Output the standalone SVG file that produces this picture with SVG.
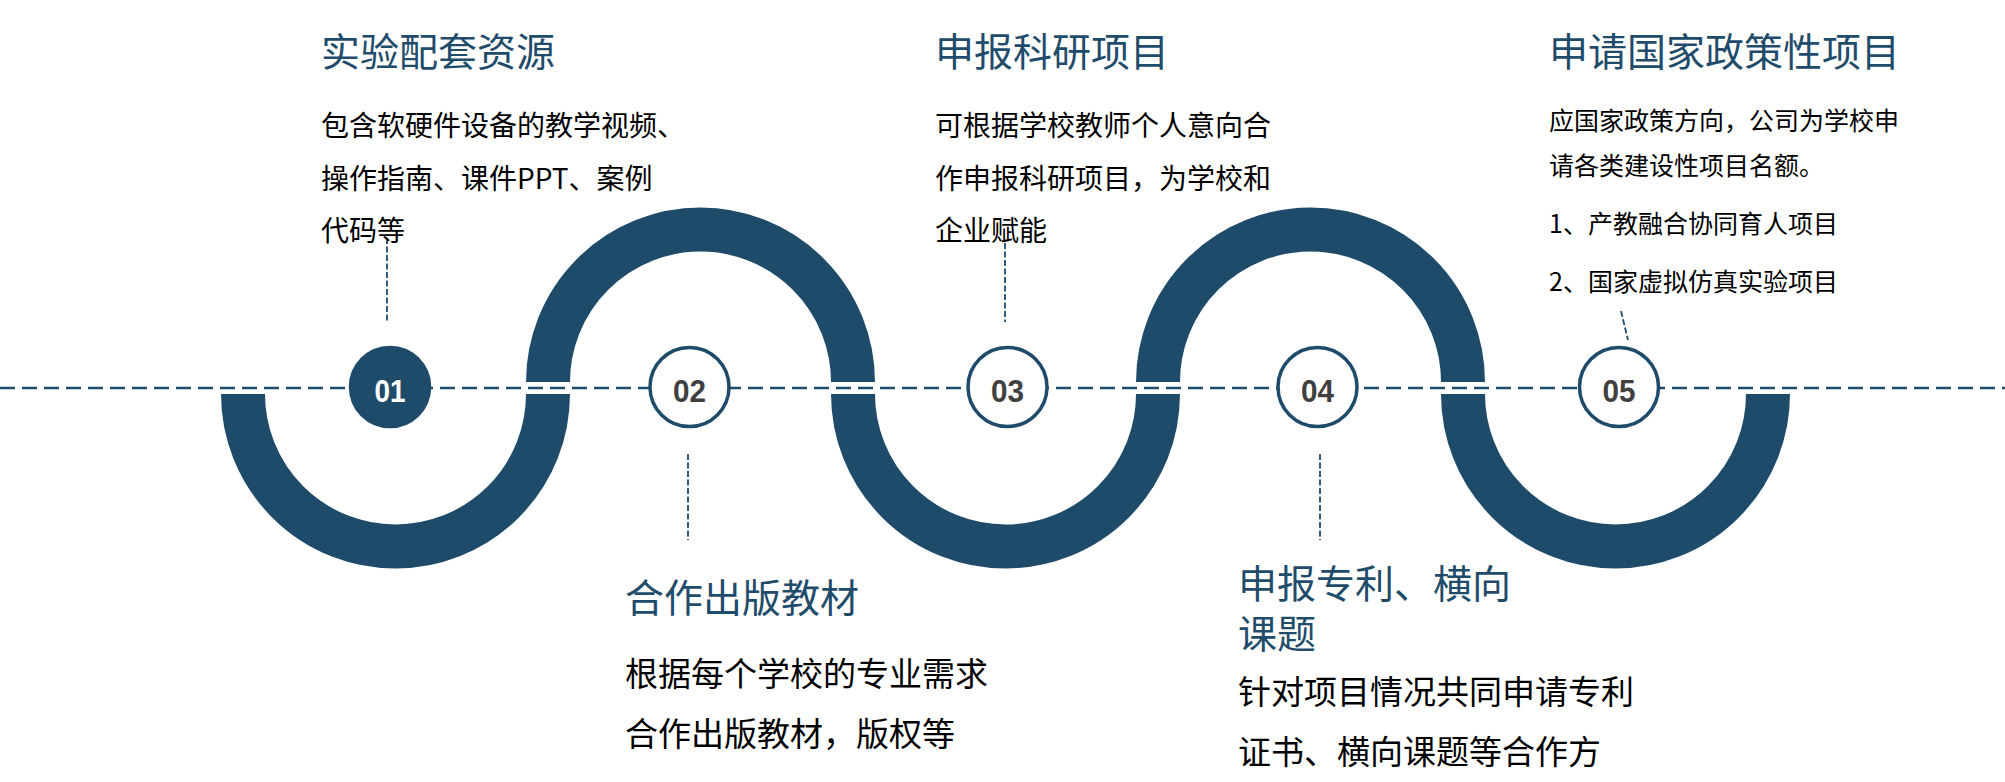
<svg xmlns="http://www.w3.org/2000/svg" width="2005" height="782" viewBox="0 0 2005 782">
  <style>
    .arc{fill:none;stroke:#1f4b6a;stroke-width:44;stroke-linecap:butt}
    .axis{fill:none;stroke:#1f4b6a;stroke-width:2.5;stroke-dasharray:15 7}
    .lead{fill:none;stroke:#1f4b6a;stroke-width:1.8;stroke-dasharray:6 2.5}
    .ring{fill:#ffffff;stroke:#1f4b6a;stroke-width:3.5}
    .ringf{fill:#1f4b6a;stroke:#1f4b6a;stroke-width:3.5}
    .num{font-family:"Liberation Sans",Arial,sans-serif;font-weight:bold;font-size:31px;fill:#404040;text-anchor:middle}
    .numw{fill:#ffffff}
    .title{font-family:"Noto Sans CJK SC","Noto Sans",sans-serif;font-size:39px;fill:#1f4c6b}
    .b28{font-family:"Noto Sans CJK SC","Noto Sans",sans-serif;font-size:28px;fill:#000000}
    .b25{font-family:"Noto Sans CJK SC","Noto Sans",sans-serif;font-size:25px;fill:#000000}
    .b33{font-family:"Noto Sans CJK SC","Noto Sans",sans-serif;font-size:33px;fill:#000000}
  </style>
  <rect width="2005" height="782" fill="#ffffff"/>
  <g id="wave">
    <path class="arc" d="M243 394 A152.5 152.5 0 0 0 548 394"/>
    <path class="arc" d="M548 382 A152.5 152.5 0 0 1 853 382"/>
    <path class="arc" d="M853 394 A152.5 152.5 0 0 0 1158 394"/>
    <path class="arc" d="M1158 382 A152.5 152.5 0 0 1 1463 382"/>
    <path class="arc" d="M1463 394 A152.5 152.5 0 0 0 1768 394"/>
  </g>
  <g id="connectors">
    <line class="axis" x1="0" y1="388" x2="2005" y2="388"/>
    <line class="lead" x1="387" y1="238" x2="387" y2="322"/>
    <line class="lead" x1="688" y1="454" x2="688" y2="540"/>
    <line class="lead" x1="1005" y1="243" x2="1005" y2="322"/>
    <line class="lead" x1="1320" y1="454" x2="1320" y2="540"/>
    <line class="lead" x1="1621" y1="311" x2="1628" y2="340"/>
  </g>
  <g id="node-01">
    <circle class="ringf" cx="390" cy="387" r="39.5"/>
    <text class="num numw" x="390" y="402" textLength="31" lengthAdjust="spacingAndGlyphs">01</text>
    <text class="title" x="321" y="66">实验配套资源</text>
    <text class="b28" x="321" y="136">包含软硬件设备的教学视频、</text>
    <text class="b28" x="321" y="189">操作指南、课件PPT、案例</text>
    <text class="b28" x="321" y="241">代码等</text>
  </g>
  <g id="node-02">
    <circle class="ring" cx="689.5" cy="387" r="39.5"/>
    <text class="num" x="689.5" y="402" textLength="33" lengthAdjust="spacingAndGlyphs">02</text>
    <text class="title" x="625" y="612">合作出版教材</text>
    <text class="b33" x="625" y="686">根据每个学校的专业需求</text>
    <text class="b33" x="625" y="746">合作出版教材，版权等</text>
  </g>
  <g id="node-03">
    <circle class="ring" cx="1007.5" cy="387" r="39.5"/>
    <text class="num" x="1007.5" y="402" textLength="33" lengthAdjust="spacingAndGlyphs">03</text>
    <text class="title" x="935" y="66">申报科研项目</text>
    <text class="b28" x="935" y="136">可根据学校教师个人意向合</text>
    <text class="b28" x="935" y="189">作申报科研项目，为学校和</text>
    <text class="b28" x="935" y="241">企业赋能</text>
  </g>
  <g id="node-04">
    <circle class="ring" cx="1317.5" cy="387" r="39.5"/>
    <text class="num" x="1317.5" y="402" textLength="33" lengthAdjust="spacingAndGlyphs">04</text>
    <text class="title" x="1238" y="598">申报专利、横向<tspan x="1238" dy="50">课题</tspan></text>
    <text class="b33" x="1238" y="704">针对项目情况共同申请专利</text>
    <text class="b33" x="1238" y="764">证书、横向课题等合作方</text>
  </g>
  <g id="node-05">
    <circle class="ring" cx="1619" cy="387" r="39.5"/>
    <text class="num" x="1619" y="402" textLength="33" lengthAdjust="spacingAndGlyphs">05</text>
    <text class="title" x="1549" y="66">申请国家政策性项目</text>
    <text class="b25" x="1549" y="130">应国家政策方向，公司为学校申</text>
    <text class="b25" x="1549" y="175">请各类建设性项目名额。</text>
    <text class="b25" x="1549" y="233">1、产教融合协同育人项目</text>
    <text class="b25" x="1549" y="291">2、国家虚拟仿真实验项目</text>
  </g>
</svg>
